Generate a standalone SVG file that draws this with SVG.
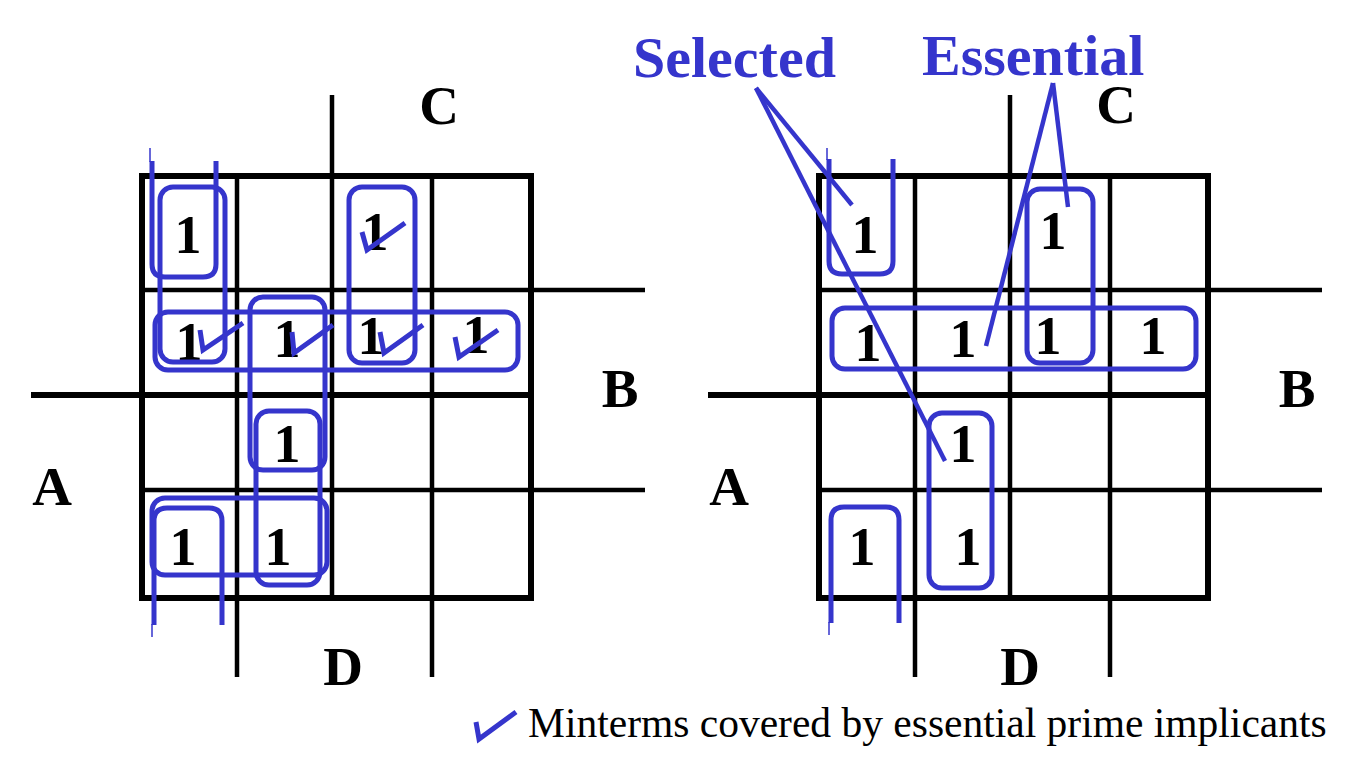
<svg xmlns="http://www.w3.org/2000/svg" width="1354" height="773" viewBox="0 0 1354 773">
<style>
.g{stroke:#000;fill:none;stroke-width:4.5}
.bd{stroke:#000;fill:none;stroke-width:6}
.lb{font-family:"Liberation Serif","Times New Roman",serif;font-weight:bold;font-size:55px;fill:#000;text-anchor:middle}
.one{font-family:"Liberation Serif","Times New Roman",serif;font-weight:bold;font-size:54px;fill:#000;text-anchor:middle}
.lp{stroke:#3535CC;fill:none;stroke-width:5;stroke-linejoin:round}
.thin{stroke:#3535CC;fill:none;stroke-width:1.5}
.ck{stroke:#3535CC;fill:none;stroke-width:5;stroke-linejoin:miter}
.ld{stroke:#3535CC;fill:none;stroke-width:4.5}
.bt{font-family:"Liberation Serif","Times New Roman",serif;font-weight:bold;font-size:58px;fill:#3535CC}
.lg{font-family:"Liberation Serif","Times New Roman",serif;font-size:41.5px;fill:#000}
</style>
<rect width="1354" height="773" fill="#fff"/>

<g id="map-left">
  <g id="grid-left">
    <line class="g" x1="237" y1="176" x2="237" y2="677"/>
    <line class="g" x1="332" y1="95" x2="332" y2="598"/>
    <line class="g" x1="432" y1="176" x2="432" y2="677"/>
    <line class="g" x1="142" y1="290" x2="645" y2="290"/>
    <line class="bd" x1="31" y1="395" x2="531" y2="395"/>
    <line class="g" x1="142" y1="490" x2="645" y2="490"/>
    <rect class="bd" x="142" y="176" width="389" height="422"/>
  </g>
  <g id="labels-left">
    <text class="lb" x="439" y="124">C</text>
    <text class="lb" x="620" y="407">B</text>
    <text class="lb" x="52" y="505">A</text>
    <text class="lb" x="343" y="685">D</text>
  </g>
  <g id="ones-left">
    <text class="one" x="188" y="253">1</text>
    <text class="one" x="375" y="250">1</text>
    <text class="one" x="189" y="360">1</text>
    <text class="one" x="287" y="357">1</text>
    <text class="one" x="371" y="354">1</text>
    <text class="one" x="476" y="353">1</text>
    <text class="one" x="287" y="462">1</text>
    <text class="one" x="183" y="565">1</text>
    <text class="one" x="278" y="565">1</text>
  </g>
  <g id="loops-left">
    <path class="lp" d="M152,161 V264 Q152,277 165,277 H203 Q216,277 216,264 V161"/>
    <line class="thin" x1="150" y1="148" x2="150" y2="162"/>
    <rect class="lp" x="160" y="187" width="65" height="175" rx="13"/>
    <rect class="lp" x="155" y="312" width="363" height="58" rx="13"/>
    <rect class="lp" x="250" y="297" width="75" height="173" rx="13"/>
    <rect class="lp" x="256" y="411" width="64" height="174" rx="13"/>
    <rect class="lp" x="152" y="498" width="175" height="77" rx="13"/>
    <path class="lp" d="M154,625 V521 Q154,508 167,508 H209 Q222,508 222,521 V625"/>
    <line class="thin" x1="152" y1="624" x2="152" y2="637"/>
    <rect class="lp" x="349" y="187" width="66" height="176" rx="13"/>
  </g>
  <g id="checks-left">
    <polyline class="ck" points="362,232 367,250 405,223"/>
    <polyline class="ck" points="200,330 203,350 243,323"/>
    <polyline class="ck" points="292,332 294,353 333,325"/>
    <polyline class="ck" points="380,332 384,353 423,325"/>
    <polyline class="ck" points="455,337 459,357 498,330"/>
  </g>
</g>

<g id="map-right">
  <g id="grid-right">
    <line class="g" x1="915" y1="176" x2="915" y2="677"/>
    <line class="g" x1="1010" y1="95" x2="1010" y2="598"/>
    <line class="g" x1="1110" y1="176" x2="1110" y2="677"/>
    <line class="g" x1="819" y1="290" x2="1322" y2="290"/>
    <line class="bd" x1="708" y1="395" x2="1208" y2="395"/>
    <line class="g" x1="819" y1="490" x2="1322" y2="490"/>
    <rect class="bd" x="819" y="176" width="389" height="422"/>
  </g>
  <g id="labels-right">
    <text class="lb" x="1116" y="123">C</text>
    <text class="lb" x="1297" y="407">B</text>
    <text class="lb" x="729" y="505">A</text>
    <text class="lb" x="1020" y="685">D</text>
  </g>
  <g id="ones-right">
    <text class="one" x="865" y="253">1</text>
    <text class="one" x="1053" y="249">1</text>
    <text class="one" x="868" y="361">1</text>
    <text class="one" x="963" y="357">1</text>
    <text class="one" x="1048" y="354">1</text>
    <text class="one" x="1153" y="354">1</text>
    <text class="one" x="963" y="462">1</text>
    <text class="one" x="862" y="565">1</text>
    <text class="one" x="968" y="565">1</text>
  </g>
  <g id="loops-right">
    <path class="lp" d="M829,159 V261 Q829,274 842,274 H880 Q893,274 893,261 V159"/>
    <line class="thin" x1="827" y1="148" x2="827" y2="160"/>
    <rect class="lp" x="1027" y="189" width="66" height="174" rx="13"/>
    <rect class="lp" x="832" y="308" width="364" height="61" rx="13"/>
    <rect class="lp" x="929" y="413" width="63" height="175" rx="13"/>
    <path class="lp" d="M831,623 V520 Q831,507 844,507 H886 Q899,507 899,520 V623"/>
    <line class="thin" x1="829" y1="622" x2="829" y2="635"/>
  </g>
</g>

<g id="connectors">
  <line class="ld" x1="756" y1="88" x2="852" y2="205"/>
  <line class="ld" x1="756" y1="88" x2="945" y2="461"/>
  <line class="ld" x1="1053" y1="83" x2="986" y2="346"/>
  <line class="ld" x1="1053" y1="83" x2="1068" y2="207"/>
</g>

<g id="callout-selected">
  <text class="bt" x="633" y="77">Selected</text>
</g>
<g id="callout-essential">
  <text class="bt" x="922" y="75">Essential</text>
</g>

<g id="legend">
  <polyline class="ck" points="476,722 479,739 516,712"/>
  <text class="lg" x="528" y="737">Minterms covered by essential prime implicants</text>
</g>
</svg>
